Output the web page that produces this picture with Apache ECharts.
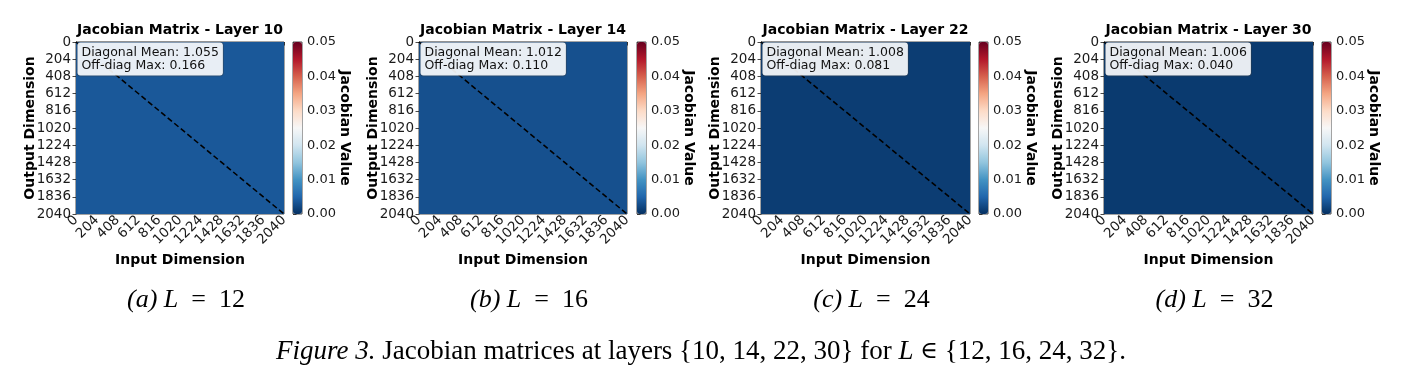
<!DOCTYPE html>
<html>
<head>
<meta charset="utf-8">
<script src="https://cdn.jsdelivr.net/npm/echarts@6/dist/echarts.min.js"></script>
<style>
  html, body { margin: 0; padding: 0; background: #fff; }
  #main { width: 1402px; height: 383px; }
</style>
</head>
<body>
<div id="main"></div>
<script>
// values
const layers = [10, 14, 22, 30];
const depths = [12, 16, 24, 32];
const subLetters = ['a', 'b', 'c', 'd'];
const diagMean = ['1.055', '1.012', '1.008', '1.006'];
const offDiagMax = ['0.166', '0.110', '0.081', '0.040'];
// typical off-diagonal level of each matrix (colour of the field)
const offDiagLevel = [0.0037, 0.0030, 0.0012, 0.0009];
const dimTicks = [0, 204, 408, 612, 816, 1020, 1224, 1428, 1632, 1836, 2040];
const cbarTicks = [0, 0.01, 0.02, 0.03, 0.04, 0.05];

// RdBu_r
const rdbu = ['#053061', '#2166ac', '#4393c3', '#92c5de', '#d1e5f0', '#f7f7f7',
  '#fddbc7', '#f4a582', '#d6604d', '#b2182b', '#67001f'];

// layout
const hmLeft = [76, 419, 761, 1104];
const hmWidth = [208, 208, 209, 209];
const cbLeft = [293, 637, 979, 1322];
const top0 = 42, hmH = 172, cbW = 9;
const dark = '#1a1a1a';
const FONT = 'DejaVu Sans';

const myChart = echarts.init(document.getElementById('main'));

const grid = [], xAxis = [], yAxis = [], series = [], visualMap = [], graphic = [];

const tickLabel = { fontSize: 13.5, fontFamily: FONT, color: dark };
const axisName = { fontSize: 14, fontWeight: 'bold', fontFamily: FONT, color: '#000' };

layers.forEach(function (layer, k) {
  // heatmap grid
  grid.push({ left: hmLeft[k], top: top0, width: hmWidth[k], height: hmH,
    show: true, borderColor: dark, borderWidth: 0.8, backgroundColor: 'transparent' });
  // colorbar grid
  grid.push({ left: cbLeft[k], top: top0, width: cbW, height: hmH,
    show: true, borderColor: dark, borderWidth: 0.8, backgroundColor: 'transparent' });

  xAxis.push({
    gridIndex: 2 * k, type: 'value', min: dimTicks[0], max: dimTicks[dimTicks.length - 1],
    interval: dimTicks[1] - dimTicks[0],
    axisLine: { show: true, lineStyle: { color: dark, width: 0.8 } },
    axisTick: { show: true, length: 3.5, lineStyle: { color: dark, width: 0.8 } },
    splitLine: { show: false },
    axisLabel: Object.assign({ rotate: 45, margin: 4, formatter: function (v) { return String(v); } }, tickLabel),
    name: 'Input Dimension', nameLocation: 'middle', nameGap: 39, nameMoveOverlap: false,
    nameTextStyle: axisName
  });
  xAxis.push({ gridIndex: 2 * k + 1, type: 'value', min: 0, max: 1, show: false });

  yAxis.push({
    gridIndex: 2 * k, type: 'value', inverse: true,
    min: dimTicks[0], max: dimTicks[dimTicks.length - 1], interval: dimTicks[1] - dimTicks[0],
    axisLine: { show: true, lineStyle: { color: dark, width: 0.8 } },
    axisTick: { show: true, length: 3.5, lineStyle: { color: dark, width: 0.8 } },
    splitLine: { show: false },
    axisLabel: Object.assign({ margin: 5, formatter: function (v) { return String(v); } }, tickLabel),
    name: 'Output Dimension', nameLocation: 'middle', nameRotate: 90, nameGap: 39, nameMoveOverlap: false,
    nameTextStyle: axisName
  });
  yAxis.push({
    gridIndex: 2 * k + 1, type: 'value', position: 'right',
    min: cbarTicks[0], max: cbarTicks[cbarTicks.length - 1], interval: 0.01,
    axisLine: { show: false },
    axisTick: { show: true, length: 3.5, lineStyle: { color: dark, width: 0.8 } },
    splitLine: { show: false },
    axisLabel: Object.assign({ margin: 5, formatter: function (v) { return v.toFixed(2); } }, tickLabel, { fontSize: 13 }),
    name: 'Jacobian Value', nameLocation: 'middle', nameRotate: -90, nameGap: 36, nameMoveOverlap: false,
    nameTextStyle: axisName
  });

  // blocks of the matrix
  const cells = [];
  for (let i = 0; i < dimTicks.length - 1; i++) {
    for (let j = 0; j < dimTicks.length - 1; j++) {
      cells.push([dimTicks[j], dimTicks[i], dimTicks[j + 1], dimTicks[i + 1], offDiagLevel[k]]);
    }
  }
  const cellIndex = series.length;
  series.push({
    type: 'custom', xAxisIndex: 2 * k, yAxisIndex: 2 * k,
    data: cells,
    encode: { x: [0, 2], y: [1, 3] },
    renderItem: function (params, api) {
      const a = api.coord([api.value(0), api.value(1)]);
      const b = api.coord([api.value(2), api.value(3)]);
      const x0 = Math.floor(Math.min(a[0], b[0])), x1 = Math.ceil(Math.max(a[0], b[0]));
      const y0 = Math.floor(Math.min(a[1], b[1])), y1 = Math.ceil(Math.max(a[1], b[1]));
      return { type: 'rect', shape: { x: x0, y: y0, width: x1 - x0, height: y1 - y0 },
        style: { fill: api.visual('color') } };
    },
    silent: true
  });
  // identity diagonal
  series.push({
    type: 'line', xAxisIndex: 2 * k, yAxisIndex: 2 * k,
    data: [[dimTicks[0], dimTicks[0]], [dimTicks[dimTicks.length - 1], dimTicks[dimTicks.length - 1]]],
    symbol: 'none', silent: true, z: 5,
    lineStyle: { color: '#000', width: 1.6, type: [5.5, 3] }
  });

  visualMap.push({
    type: 'continuous', seriesIndex: cellIndex, dimension: 4,
    min: cbarTicks[0], max: cbarTicks[cbarTicks.length - 1],
    calculable: false, show: true, padding: 0,
    left: cbLeft[k], top: top0, itemWidth: cbW, itemHeight: hmH,
    inRange: { color: rdbu }
  });

  const cx = hmLeft[k] + hmWidth[k] / 2;
  graphic.push({
    type: 'text', z: 100, x: cx, y: 30,
    style: { text: 'Jacobian Matrix - Layer ' + layer, fontSize: 14, fontWeight: 'bold',
      fontFamily: FONT, fill: '#000', align: 'center', verticalAlign: 'middle' }
  });
  graphic.push({
    type: 'text', z: 100, x: hmLeft[k] + 1.5, y: 42.5,
    style: {
      text: 'Diagonal Mean: ' + diagMean[k] + '\nOff-diag Max: ' + offDiagMax[k],
      fontSize: 12.5, fontFamily: FONT, fill: '#111', lineHeight: 13.5,
      backgroundColor: 'rgba(255,255,255,0.9)', borderColor: 'rgba(60,60,60,0.35)', borderWidth: 1,
      borderRadius: 3, padding: [3, 4, 3, 4], align: 'left', verticalAlign: 'top'
    }
  });
  graphic.push({
    type: 'text', z: 100, x: cx + 6, y: 300,
    style: {
      text: '{it|(' + subLetters[k] + ')} {it|L}\u2002=\u2002' + depths[k],
      fontFamily: 'Liberation Serif', fontSize: 26, fill: '#000', align: 'center', verticalAlign: 'middle',
      rich: { it: { fontStyle: 'italic', fontFamily: 'Liberation Serif', fontSize: 26 } }
    }
  });
});

graphic.push({
  type: 'text', z: 100, x: 701, y: 352,
  style: {
    text: '{it|Figure 3.} Jacobian matrices at layers {' + layers.join(', ') + '} for {it|L} {m|\u2208} {' + depths.join(', ') + '}.',
    fontFamily: 'Liberation Serif', fontSize: 27, fill: '#000', align: 'center', verticalAlign: 'middle',
    rich: {
      it: { fontStyle: 'italic', fontFamily: 'Liberation Serif', fontSize: 27 },
      m: { fontFamily: 'DejaVu Serif', fontSize: 24 }
    }
  }
});

const option = {
  animation: false,
  textStyle: { fontFamily: FONT },
  grid: grid,
  xAxis: xAxis,
  yAxis: yAxis,
  visualMap: visualMap,
  series: series,
  graphic: graphic
};
myChart.setOption(option);
</script>
</body>
</html>
